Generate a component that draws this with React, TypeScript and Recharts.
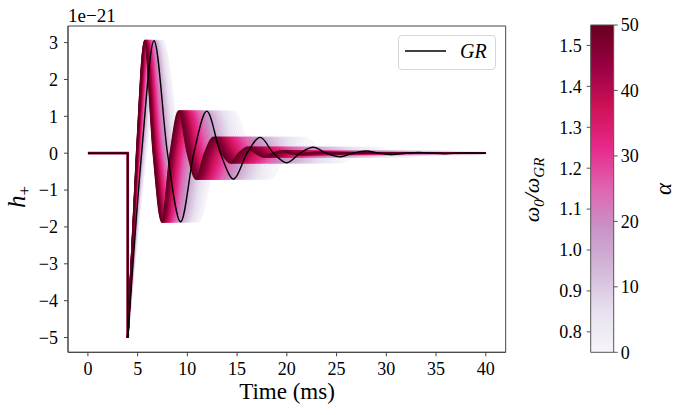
import React from 'react';
import { LineChart, Line, XAxis, YAxis, Legend, ComposedChart, ReferenceArea } from 'recharts';

// ---- data ----
const PRE_T = [0, 4, 4];
const PRE_H = [0, 0, -5];
const GR_EXT_T = [4.0, 6.65, 9.32, 11.95, 14.65, 17.32, 20.0, 22.65, 25.3, 27.95, 30.6, 33.25, 35.9, 38.55];
const GR_EXT_H = [-5.0, 3.05, -1.86, 1.14, -0.7, 0.43, -0.26, 0.16, -0.1, 0.06, -0.036, 0.022, -0.013, 0.008];
const GR_ZERO_T = [5.4, 8.0, 10.65, 13.32, 16.0, 18.66, 21.32, 23.98, 26.64, 29.3, 31.94, 34.6, 37.24];
const END_T = 40;
const ALPHAS = [
  0, 1, 2, 3, 4, 5, 6, 7, 8, 9, 10, 11, 12, 13, 14, 15, 16, 17, 18, 19, 20, 21, 22, 23, 24, 25,
  26, 27, 28, 29, 30, 31, 32, 33, 34, 35, 36, 37, 38, 39, 40, 41, 42, 43, 44, 45, 46, 47, 48, 49, 50,
];
const ALPHA_RANGE = [0, 50];
const OMEGA_RANGE = [0.75, 1.55];
const X_TICKS = [0, 5, 10, 15, 20, 25, 30, 35, 40];
const Y_TICKS = [-5, -4, -3, -2, -1, 0, 1, 2, 3];
const CB_OMEGA_TICKS = [0.8, 0.9, 1.0, 1.1, 1.2, 1.3, 1.4, 1.5];
const CB_ALPHA_TICKS = [0, 10, 20, 30, 40, 50];

const PURD = ['#f7f4f9', '#e7e1ef', '#d4b9da', '#c994c7', '#df65b0', '#e7298a', '#ce1256', '#980043', '#67001f'];

const SERIF = 'Liberation Serif, Times New Roman, DejaVu Serif, serif';

function hexToRgb(h: string) {
  return [parseInt(h.slice(1, 3), 16), parseInt(h.slice(3, 5), 16), parseInt(h.slice(5, 7), 16)];
}
function puRd(f: number) {
  const x = Math.max(0, Math.min(1, f)) * (PURD.length - 1);
  const i = Math.min(PURD.length - 2, Math.floor(x));
  const r = x - i;
  const a = hexToRgb(PURD[i]);
  const b = hexToRgb(PURD[i + 1]);
  const c = a.map((v, k) => Math.round(v + (b[k] - v) * r));
  return `rgb(${c[0]},${c[1]},${c[2]})`;
}

const preData = PRE_T.map((t, i) => ({ t, h: PRE_H[i] }));

function buildCurve(omega: number) {
  const pts = [{ t: GR_EXT_T[0], h: GR_EXT_H[0] }];
  for (let k = 1; k < GR_EXT_T.length; k++) {
    const z = GR_EXT_T[0] + (GR_ZERO_T[k - 1] - GR_EXT_T[0]) / omega;
    const e = GR_EXT_T[0] + (GR_EXT_T[k] - GR_EXT_T[0]) / omega;
    if (z < END_T) pts.push({ t: z, h: 0 });
    if (e < END_T) pts.push({ t: e, h: GR_EXT_H[k] });
  }
  pts.push({ t: END_T, h: 0 });
  return pts;
}

const grData = buildCurve(1);
const family = ALPHAS.map((a) => {
  const f = (a - ALPHA_RANGE[0]) / (ALPHA_RANGE[1] - ALPHA_RANGE[0]);
  const omega = OMEGA_RANGE[0] + f * (OMEGA_RANGE[1] - OMEGA_RANGE[0]);
  return { a, color: puRd(f), data: buildCurve(omega) };
});

const fmt = (v: number) => String(v).replace('-', '\u2212');
const fmt1 = (v: number) => v.toFixed(1);

const tickStyle = { fontFamily: SERIF, fontSize: 18, fill: '#000', style: { fontFamily: SERIF } };
const serifStyle = { fontFamily: SERIF };

const XLabel = () => (
  <text x={287} y={399} textAnchor="middle" style={serifStyle} fontSize={23} fill="#000">
    Time (ms)
  </text>
);

const YLabel = () => (
  <g>
    <text
      x={25}
      y={197}
      transform="rotate(-90 25 197)"
      textAnchor="middle"
      style={serifStyle}
      fontSize={25}
      fill="#000"
    >
      <tspan fontStyle="italic">h</tspan>
      <tspan dy={5} fontSize={17}>+</tspan>
    </text>
    <text x={68} y={22} style={serifStyle} fontSize={19} fill="#000">
      1e{'\u2212'}21
    </text>
  </g>
);

// coordinates below are relative to the colour-bar chart (placed at x = 520)
const OmegaLabel = () => (
  <text
    x={19}
    y={190}
    transform="rotate(-90 19 190)"
    textAnchor="middle"
    style={serifStyle}
    fontSize={22}
    fontStyle="italic"
    fill="#000"
  >
    <tspan>ω</tspan>
    <tspan dy={5} fontSize={15}>0</tspan>
    <tspan dy={-5}>/ω</tspan>
    <tspan dy={5} fontSize={15}>GR</tspan>
  </text>
);

const AlphaLabel = () => (
  <text
    x={151}
    y={189}
    transform="rotate(-90 151 189)"
    textAnchor="middle"
    style={serifStyle}
    fontSize={23}
    fontStyle="italic"
    fill="#000"
  >
    α
  </text>
);

const LegendBox = () => (
  <div
    style={{
      width: 98,
      height: 35,
      boxSizing: 'border-box',
      border: '1px solid #d6d6d6',
      borderRadius: 4,
      background: 'rgba(255,255,255,0.8)',
      position: 'relative',
    }}
  >
    <svg width={98} height={35} style={{ position: 'absolute', left: -1, top: -1 }}>
      <line x1={7} y1={16} x2={48} y2={16} stroke="#000" strokeWidth={1.6} />
      <text x={62} y={23} style={serifStyle} fontSize={20} fontStyle="italic" fill="#000">
        GR
      </text>
    </svg>
  </div>
);

export default function App() {
  return (
    <div style={{ position: 'absolute', left: 0, top: 0, width: 685, height: 415, background: '#fff', fontFamily: SERIF }}>
      <div style={{ position: 'absolute', left: 0, top: 0 }}>
        <LineChart width={685} height={415} margin={{ top: 26, right: 179.3, bottom: 0, left: 0 }}>
          <XAxis
            dataKey="t"
            type="number"
            domain={[-2, 42]}
            ticks={X_TICKS}
            allowDataOverflow
            height={62.7}
            tick={tickStyle}
            tickFormatter={fmt}
            tickSize={4}
            tickMargin={6}
            stroke="#444"
            label={<XLabel />}
          />
          <YAxis
            dataKey="h"
            type="number"
            domain={[-5.4, 3.45]}
            ticks={Y_TICKS}
            allowDataOverflow
            width={68}
            tick={tickStyle}
            tickFormatter={fmt}
            tickSize={4}
            tickMargin={6}
            stroke="#444"
            label={<YLabel />}
          />
          <Line
            data={preData}
            dataKey="h"
            type="linear"
            stroke="#980043"
            strokeWidth={2.8}
            dot={false}
            activeDot={false}
            isAnimationActive={false}
            legendType="none"
          />
          {family.map((c) => (
            <Line
              key={c.a}
              data={c.data}
              dataKey="h"
              type="monotone"
              stroke={c.color}
              strokeWidth={1.8}
              dot={false}
              activeDot={false}
              isAnimationActive={false}
              legendType="none"
            />
          ))}
          <Line
            data={preData}
            dataKey="h"
            type="linear"
            stroke="#000"
            strokeWidth={1.5}
            dot={false}
            activeDot={false}
            isAnimationActive={false}
            legendType="none"
          />
          <Line
            data={grData}
            dataKey="h"
            name="GR"
            type="monotone"
            stroke="#000"
            strokeWidth={1.4}
            dot={false}
            activeDot={false}
            isAnimationActive={false}
          />
          {/* plot frame */}
          <ReferenceArea x1={-2} x2={42} y1={-5.4} y2={3.45} fill="none" stroke="#444" strokeWidth={1} ifOverflow="visible" />
          <Legend
            layout="horizontal"
            verticalAlign="middle"
            align="center"
            wrapperStyle={{ left: 398, top: 35, width: 98, height: 35 }}
            content={() => <LegendBox />}
          />
        </LineChart>
      </div>
      <div style={{ position: 'absolute', left: 520, top: 0 }}>
        <ComposedChart
          width={165}
          height={415}
          data={[{ x: 0 }, { x: 1 }]}
          margin={{ top: 25, right: 0, bottom: 62.7, left: 0 }}
        >
          <defs>
            <linearGradient id="puRdGrad" x1="0" y1="1" x2="0" y2="0">
              {PURD.map((c, i) => (
                <stop key={i} offset={`${(i / (PURD.length - 1)) * 100}%`} stopColor={c} />
              ))}
            </linearGradient>
          </defs>
          <XAxis dataKey="x" type="number" domain={[0, 1]} hide />
          <YAxis
            yAxisId="w"
            type="number"
            domain={OMEGA_RANGE}
            ticks={CB_OMEGA_TICKS}
            allowDataOverflow
            width={70.7}
            tick={tickStyle}
            tickFormatter={fmt1}
            tickSize={4}
            tickMargin={5}
            stroke="#555"
            axisLine={false}
            label={<OmegaLabel />}
          />
          <YAxis
            yAxisId="a"
            orientation="right"
            type="number"
            domain={ALPHA_RANGE}
            ticks={CB_ALPHA_TICKS}
            allowDataOverflow
            width={71.3}
            tick={tickStyle}
            tickSize={4}
            tickMargin={3}
            stroke="#555"
            axisLine={false}
            label={<AlphaLabel />}
          />
          <ReferenceArea
            yAxisId="a"
            x1={0}
            x2={1}
            y1={ALPHA_RANGE[0]}
            y2={ALPHA_RANGE[1]}
            fill="url(#puRdGrad)"
            fillOpacity={1}
            stroke="#555"
            strokeWidth={1}
          />
        </ComposedChart>
      </div>
    </div>
  );
}
